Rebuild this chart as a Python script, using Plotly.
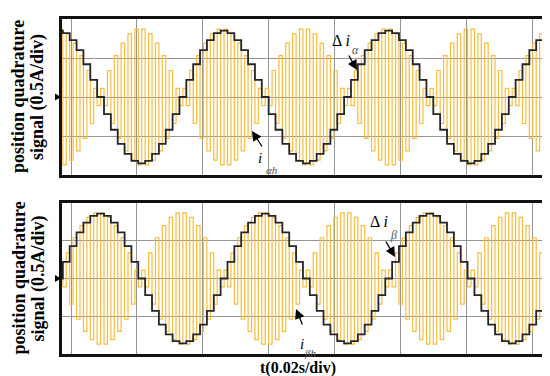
import plotly.graph_objects as go

# ---------------- data ----------------
SAMPLE_PERIOD_S = 0.0020833      # one carrier cycle / one staircase step
FIRST_SAMPLE_S = -0.00352        # time of first staircase sample
GRID_DIV_S = 0.02                # 0.02 s/div
AMP_DIV_A = 0.5                  # 0.5 A/div

# top panel: Δi_alpha staircase (A)
delta_i_alpha = [
    0.85, 0.82, 0.73, 0.60, 0.42, 0.22, 0.00, -0.22, -0.42, -0.60, -0.73, -0.82,
    -0.85, -0.82, -0.73, -0.60, -0.42, -0.22, 0.00, 0.22, 0.42, 0.60, 0.73, 0.82,
    0.85, 0.82, 0.73, 0.60, 0.42, 0.22, 0.00, -0.22, -0.42, -0.60, -0.73, -0.82,
    -0.85, -0.82, -0.73, -0.60, -0.42, -0.22, 0.00, 0.22, 0.42, 0.60, 0.73, 0.82,
    0.85, 0.82, 0.73, 0.60, 0.42, 0.22, 0.00, -0.22, -0.42, -0.60, -0.73, -0.82,
    -0.85, -0.82, -0.73, -0.60, -0.42, -0.22, 0.00, 0.22, 0.42, 0.60, 0.73, 0.82,
]
# top panel: i_alpha_h carrier amplitude per cycle (A)
i_alpha_h_amp = [
    0.87,
    0.87, 0.81, 0.69, 0.53, 0.34, 0.11, 0.11, 0.34, 0.53, 0.69, 0.81, 0.87,
    0.87, 0.81, 0.69, 0.53, 0.34, 0.11, 0.11, 0.34, 0.53, 0.69, 0.81, 0.87,
    0.87, 0.81, 0.69, 0.53, 0.34, 0.11, 0.11, 0.34, 0.53, 0.69, 0.81, 0.87,
    0.87, 0.81, 0.69, 0.53, 0.34, 0.11, 0.11, 0.34, 0.53, 0.69, 0.81, 0.87,
    0.87, 0.81, 0.69, 0.53, 0.34, 0.11, 0.11, 0.34, 0.53, 0.69, 0.81, 0.87,
    0.87, 0.81, 0.69, 0.53, 0.34, 0.11, 0.11, 0.34, 0.53, 0.69, 0.81, 0.87,
]
# bottom panel: Δi_beta staircase (A)
delta_i_beta = [
    0.00, 0.22, 0.43, 0.61, 0.74, 0.83, 0.86, 0.83, 0.74, 0.61, 0.43, 0.22,
    0.00, -0.22, -0.43, -0.61, -0.74, -0.83, -0.86, -0.83, -0.74, -0.61, -0.43, -0.22,
    0.00, 0.22, 0.43, 0.61, 0.74, 0.83, 0.86, 0.83, 0.74, 0.61, 0.43, 0.22,
    0.00, -0.22, -0.43, -0.61, -0.74, -0.83, -0.86, -0.83, -0.74, -0.61, -0.43, -0.22,
    0.00, 0.22, 0.43, 0.61, 0.74, 0.83, 0.86, 0.83, 0.74, 0.61, 0.43, 0.22,
    0.00, -0.22, -0.43, -0.61, -0.74, -0.83, -0.86, -0.83, -0.74, -0.61, -0.43, -0.22,
]
# bottom panel: i_beta_h carrier amplitude per cycle (A)
i_beta_h_amp = [
    0.11,
    0.11, 0.34, 0.54, 0.70, 0.81, 0.87, 0.87, 0.81, 0.70, 0.54, 0.34, 0.11,
    0.11, 0.34, 0.54, 0.70, 0.81, 0.87, 0.87, 0.81, 0.70, 0.54, 0.34, 0.11,
    0.11, 0.34, 0.54, 0.70, 0.81, 0.87, 0.87, 0.81, 0.70, 0.54, 0.34, 0.11,
    0.11, 0.34, 0.54, 0.70, 0.81, 0.87, 0.87, 0.81, 0.70, 0.54, 0.34, 0.11,
    0.11, 0.34, 0.54, 0.70, 0.81, 0.87, 0.87, 0.81, 0.70, 0.54, 0.34, 0.11,
    0.11, 0.34, 0.54, 0.70, 0.81, 0.87, 0.87, 0.81, 0.70, 0.54, 0.34, 0.11,
]

# ---------------- layout constants ----------------
W, H = 550, 376
ORANGE = "#F7BD3E"
BLACK = "#262626"
GRID = "#959595"
SERIF = "Liberation Serif, Times New Roman, serif"


def px(x, y):
    return x / W, 1 - y / H


def staircase(levels):
    xs, ys = [], []
    for k, v in enumerate(levels):
        xs.append(FIRST_SAMPLE_S + (k - 0.5) * SAMPLE_PERIOD_S)
        ys.append(v)
    xs.append(FIRST_SAMPLE_S + (len(levels) - 0.5) * SAMPLE_PERIOD_S)
    ys.append(levels[-1])
    return xs, ys


def carrier(amps):
    xs, ys = [], []
    for j, a in enumerate(amps):
        s = FIRST_SAMPLE_S + (j - 1) * SAMPLE_PERIOD_S
        xs += [s, s + SAMPLE_PERIOD_S / 2]
        ys += [a, -a]
    xs.append(FIRST_SAMPLE_S + (len(amps) - 1) * SAMPLE_PERIOD_S)
    ys.append(-amps[-1])
    return xs, ys


fig = go.Figure()
for amps, stairs, xa, ya in [
    (i_alpha_h_amp, delta_i_alpha, "x", "y"),
    (i_beta_h_amp, delta_i_beta, "x2", "y2"),
]:
    cx, cy = carrier(amps)
    fig.add_trace(go.Scatter(x=cx, y=cy, mode="lines", line=dict(color=ORANGE, width=1.2, shape="hv"),
                             xaxis=xa, yaxis=ya, hoverinfo="skip", showlegend=False))
    sx, sy = staircase(stairs)
    fig.add_trace(go.Scatter(x=sx, y=sy, mode="lines", line=dict(color=BLACK, width=1.8, shape="hv"),
                             xaxis=xa, yaxis=ya, hoverinfo="skip", showlegend=False))

# plot areas in pixels
LEFT, RIGHT = 54, 538
TOP1, BOT1 = 11, 167
TOP2, BOT2 = 195, 346
GRID0_PX = 63
DIV_PX = 65.86
x_lo = (LEFT - GRID0_PX) / DIV_PX * GRID_DIV_S
x_hi = (RIGHT - GRID0_PX) / DIV_PX * GRID_DIV_S

xcommon = dict(range=[x_lo, x_hi], showgrid=True, gridcolor=GRID, gridwidth=1, tick0=0, dtick=GRID_DIV_S,
               showticklabels=False, ticks="", zeroline=False, showline=True, mirror=True,
               linecolor="#111111", linewidth=2.5, fixedrange=True)
ycommon = dict(range=[-2 * AMP_DIV_A, 2 * AMP_DIV_A], showgrid=True, gridcolor=GRID, gridwidth=1, tick0=0,
               dtick=AMP_DIV_A, showticklabels=False, ticks="", zeroline=False, showline=True, mirror=True,
               linecolor="#111111", linewidth=2.5, fixedrange=True)

fig.update_layout(
    width=W, height=H, margin=dict(l=0, r=0, t=0, b=0),
    paper_bgcolor="white", plot_bgcolor="white",
    xaxis=dict(xcommon, domain=[LEFT / W, RIGHT / W], anchor="y"),
    yaxis=dict(ycommon, domain=[1 - BOT1 / H, 1 - TOP1 / H], anchor="x"),
    xaxis2=dict(xcommon, domain=[LEFT / W, RIGHT / W], anchor="y2"),
    yaxis2=dict(ycommon, domain=[1 - BOT2 / H, 1 - TOP2 / H], anchor="x2"),
)

# small centre markers on left frame
shapes = []
for cy_px in [(TOP1 + BOT1) / 2, (TOP2 + BOT2) / 2]:
    a = px(47, cy_px - 3.5)
    b = px(47, cy_px + 3.5)
    c = px(53, cy_px)
    shapes.append(dict(type="path", xref="paper", yref="paper",
                       path=f"M {a[0]},{a[1]} L {b[0]},{b[1]} L {c[0]},{c[1]} Z",
                       fillcolor="black", line=dict(width=0)))
fig.update_layout(shapes=shapes)

ann = []


def text(x, y, t, size, bold=False, color="black", angle=0, italic=False):
    fx, fy = px(x, y)
    s = t
    if italic:
        s = f"<i>{s}</i>"
    if bold:
        s = f"<b>{s}</b>"
    ann.append(dict(x=fx, y=fy, xref="paper", yref="paper", text=s, showarrow=False,
                    font=dict(family=SERIF, size=size, color=color), textangle=angle,
                    xanchor="center", yanchor="middle"))


def arrow(hx, hy, tx, ty):
    fx, fy = px(hx, hy)
    ann.append(dict(x=fx, y=fy, xref="paper", yref="paper", text="", showarrow=True,
                    ax=tx - hx, ay=ty - hy, arrowhead=2, arrowsize=1.5, arrowwidth=1.3,
                    arrowcolor="black"))


# y-axis titles
for cy_px in [(TOP1 + BOT1) / 2, (TOP2 + BOT2) / 2]:
    text(10, cy_px, "position quadrature", 18, bold=True, angle=-90)
    text(30, cy_px, "signal (0.5A/div)", 18, bold=True, angle=-90)

# x-axis title
text(290, 360, "t(0.02s/div)", 16, bold=True)

# panel labels
text(333, 32, "Δ <i>i</i>", 16)
text(347, 42, "α", 12, color="#555555", italic=True)
arrow(349, 62, 340, 46)
text(252, 150, "i", 15, italic=True)
text(264, 162, "αh", 11, color="#555555", italic=True)
arrow(244, 123, 255, 140)

text(371, 213, "Δ <i>i</i>", 16)
text(385, 227, "β", 12, color="#555555", italic=True)
arrow(387, 249, 377, 232)
text(294, 336, "i", 15, italic=True)
text(302, 345, "βh", 11, color="#555555", italic=True)
arrow(288, 301, 295, 318)

fig.update_layout(annotations=ann)

fig.write_html("out.html")
